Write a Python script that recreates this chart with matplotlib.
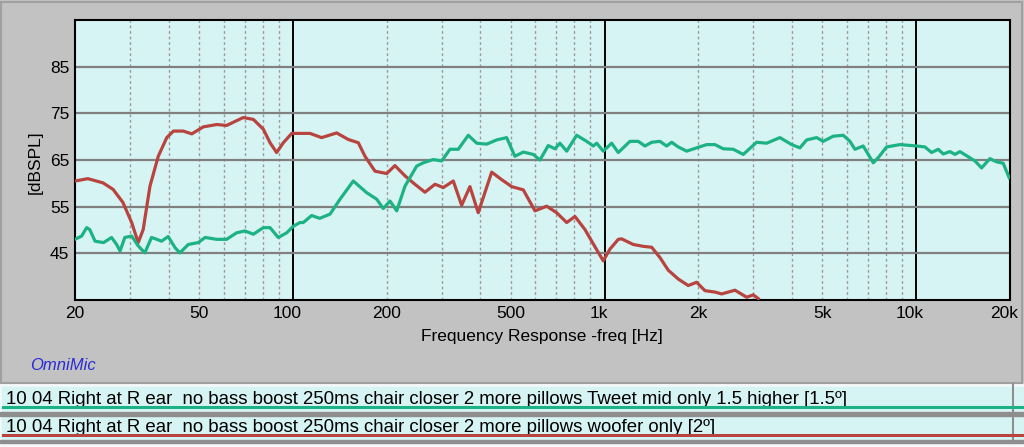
import matplotlib
matplotlib.use("Agg")
import matplotlib.pyplot as plt
import matplotlib.transforms as mtransforms
from matplotlib.patches import Rectangle
from matplotlib.lines import Line2D
from matplotlib.ticker import FixedLocator, NullFormatter

plt.rcParams['font.family'] = ['Liberation Sans', 'DejaVu Sans']

# tweeter/mid only trace (green)
tweet_freq = [20, 21.0, 21.8, 22.3, 23.2, 24.7, 26.2, 27.2, 27.9, 28.9, 30.4, 31.9, 33.5, 35.2,
              36.6, 37.9, 39.8, 41.9, 43.4, 46.2, 49.7, 52.3, 57.0, 61.3, 66.0, 70.2, 74.7, 80.4,
              84.5, 89.8, 95.6, 100.3, 105.4, 108.0, 114.9, 122, 131.6, 141.7, 156.3, 172.5, 185.8,
              195, 205, 215.4, 229, 249.7, 262.1, 282.2, 300.3, 319.3, 339.5, 365.5, 389, 418.7,
              450.7, 485.3, 515.8, 548.8, 590.6, 620.7, 660, 693.5, 719.4, 756.3, 814, 876.6,
              920.5, 943.8, 990.8, 1054, 1107, 1207, 1283, 1348, 1417, 1506, 1582, 1642, 1724,
              1835, 1975, 2126, 2262, 2404, 2588, 2788, 3076, 3312, 3654, 3986, 4236, 4452, 4794,
              5032, 5418, 5834, 6130, 6360, 6762, 7018, 7282, 7556, 8038, 8872, 10032, 10666,
              11208, 11768, 12212, 12832, 13314, 13816, 14688, 15434, 16216, 17240, 18116, 19020,
              19882]
tweet_spl = [48.0, 48.7, 50.5, 50.1, 47.6, 47.3, 48.4, 46.9, 45.5, 48.4, 48.7, 46.6, 45.1, 48.4,
             48.0, 47.6, 48.6, 46.2, 45.1, 46.9, 47.3, 48.4, 48.0, 48.0, 49.4, 49.8, 49.1, 50.5,
             50.5, 48.4, 49.4, 50.8, 51.6, 51.6, 53.1, 52.5, 53.4, 56.6, 60.5, 58.0, 56.6,
             54.6, 56.2, 54.1, 59.4, 63.7, 64.4, 65.1, 64.8, 67.3, 67.3, 70.3, 68.6, 68.4,
             69.3, 69.8, 65.8, 66.7, 66.2, 65.0, 68.1, 67.4, 68.6, 66.9, 70.3, 69.0,
             68.0, 68.6, 66.9, 68.6, 66.6, 69.0, 69.0, 68.0, 68.8, 69.0, 68.0, 68.8, 67.8,
             66.9, 67.6, 68.3, 68.3, 67.4, 67.3, 66.2, 68.8, 68.6, 69.8, 68.3, 67.6, 69.3, 69.8,
             69.0, 70.1, 70.3, 69.0, 67.3, 68.0, 66.2, 64.4, 65.5, 67.8, 68.3, 68.0, 67.8,
             66.6, 67.3, 66.3, 66.8, 66.2, 66.8, 65.7, 64.8, 63.3, 65.3, 64.6, 64.3,
             61.2]

# woofer only trace (red)
woofer_freq = [20, 22.0, 24.6, 26.5, 28.5, 30.4, 31.9, 33.1, 34.8, 37.0, 39.4, 41.4, 44.5, 47.4,
               51.6, 57.0, 61.3, 69.3, 74.7, 80.4, 84.5, 88.7, 93.2, 99.2, 113.5, 123.7, 138.2,
               150.6, 162.2, 170.4, 183.5, 200, 212.6, 229, 246.4, 265.4, 285.8, 303.9, 327.2,
               348, 370, 393.4, 434.5, 467.6, 503.6, 548.8, 598.2, 652.3, 702.3, 756.3, 803.9,
               865.5, 932, 990.8, 1041, 1107, 1135, 1236, 1331, 1417, 1506, 1601, 1724, 1856,
               1975, 2100, 2262, 2376, 2622, 2858, 3002, 3114]
woofer_spl = [60.5, 61.0, 60.1, 58.7, 55.9, 51.6, 47.3, 50.1, 59.4, 65.8, 69.8, 71.2, 71.2, 70.6,
              72.1, 72.6, 72.4, 74.1, 73.7, 71.6, 68.7, 66.6, 68.7, 70.7, 70.7, 69.8, 70.8,
              69.4, 68.7, 65.8, 62.6, 62.1, 63.8, 61.6, 59.8, 58.1, 59.8, 59.1, 60.5,
              55.3, 59.3, 53.7, 62.4, 60.8, 59.3, 58.6, 54.1, 55.1, 53.7, 51.6, 52.9,
              50.1, 46.4, 43.4, 45.9, 48.0, 48.1, 46.9, 46.5, 46.3, 44.1, 41.4, 39.5, 38.1,
              38.8, 37.0, 36.7, 36.3, 37.1, 35.6, 36.1, 35.3]

major_ticks = [20, 50, 100, 200, 500, 1000, 2000, 5000, 10000, 20000]
major_labels = ['20', '50', '100', '200', '500', '1k', '2k', '5k', '10k', '20k']
dotted_freqs = [30, 40, 50, 60, 70, 80, 90, 200, 300, 400, 500, 600, 700, 800, 900,
                2000, 3000, 4000, 5000, 6000, 7000, 8000, 9000]
decade_freqs = [100, 1000, 10000]
y_ticks = [45, 55, 65, 75, 85]

legend_labels = ['10 04 Right at R ear  no bass boost 250ms chair closer 2 more pillows Tweet mid only 1.5 higher [1.5\u00ba]',
                 '10 04 Right at R ear  no bass boost 250ms chair closer 2 more pillows woofer only [2\u00ba]']

green = '#1db283'
red = '#b8443f'
cyan = '#d7f4f4'

W, H = 1024, 447
fig = plt.figure(figsize=(W / 100, H / 100), dpi=100, facecolor='#c2c2c2')


def fy(y):
    return 1 - y / H


def fx(x):
    return x / W


# border of the chart panel
fig.add_artist(Rectangle((fx(1), fy(383)), fx(1021), (383 - 2) / H, transform=fig.transFigure,
                         fill=False, edgecolor='#a0a0a0', lw=1.5))

ax = fig.add_axes([fx(75), fy(300), fx(1010) - fx(75), (300 - 20) / H])
ax.set_facecolor(cyan)
ax.set_xscale('log')
ax.set_xlim(20, 20000)
ax.set_ylim(35, 95)

for f in dotted_freqs:
    ax.axvline(f, color='#9a9a9a', lw=1.0, ls=(0, (2, 2)), zorder=1)
for f in decade_freqs:
    ax.axvline(f, color='black', lw=1.4, zorder=1)
for v in y_ticks:
    ax.axhline(v, color='#808080', lw=1.6, zorder=1)

ax.plot(woofer_freq, woofer_spl, color=red, lw=2.3, zorder=3, clip_on=True)
ax.plot(tweet_freq, tweet_spl, color=green, lw=2.3, zorder=3)

ax.xaxis.set_major_locator(FixedLocator(major_ticks))
ax.set_xticklabels(major_labels)
ax.xaxis.set_minor_formatter(NullFormatter())
ax.tick_params(axis='x', which='both', length=0, pad=4, labelsize=12.5)
ax.set_yticks(y_ticks)
ax.tick_params(axis='y', length=0, pad=4, labelsize=12.5)

# software draws a few labels a bit left of their line
shift = mtransforms.ScaledTranslation(-6 / 100, 0, fig.dpi_scale_trans)
for lab in ax.get_xticklabels():
    if lab.get_text() in ('100', '1k', '10k', '20k'):
        lab.set_transform(lab.get_transform() + shift)

for s in ax.spines.values():
    s.set_color('black')
    s.set_linewidth(1.5)

ax.set_xlabel('Frequency Response -freq [Hz]', fontsize=12.5)
ax.xaxis.set_label_coords((542 - 75) / 935, (300 - 337) / 280)
ax.xaxis.label.set_va('center')
ax.set_ylabel('[dBSPL]', fontsize=12.5)
ax.yaxis.set_label_coords((35 - 75) / 935, (300 - 162) / 280)
ax.yaxis.label.set_va('center')

fig.text(fx(30), fy(365), 'OmniMic', color='#2b2bd6', fontsize=12, style='italic', va='center')

# legend rows
fig.add_artist(Rectangle((0, 0), 1, fy(384), transform=fig.transFigure, color='#f4f8f8', zorder=0))
rows = [(387, 412, 407, 404, green), (416, 440, 435, 432, red)]
for (top, bot, line_y, base_y, col), txt in zip(rows, legend_labels):
    fig.add_artist(Rectangle((fx(2), fy(bot)), fx(1011), (bot - top) / H, transform=fig.transFigure,
                             color=cyan, zorder=1))
    fig.add_artist(Rectangle((fx(1013), fy(bot)), fx(11), (bot - top) / H, transform=fig.transFigure,
                             color=cyan, zorder=1))
    fig.text(fx(6), fy(base_y), txt, fontsize=13.4, va='baseline', ha='left', zorder=3)
    fig.add_artist(Line2D([fx(3), 1], [fy(line_y), fy(line_y)], transform=fig.transFigure,
                          color=col, lw=2.2, zorder=4))
for y0, y1 in [(412, 416), (440, 443)]:
    fig.add_artist(Rectangle((0, fy(y1)), 1, (y1 - y0) / H, transform=fig.transFigure,
                             color='#8e8e8e', zorder=2))
fig.add_artist(Line2D([fx(1013), fx(1013)], [fy(443), fy(384)], transform=fig.transFigure,
                      color='#8e8e8e', lw=1.5, zorder=2))

fig.savefig('out.png', dpi=100, facecolor=fig.get_facecolor())
